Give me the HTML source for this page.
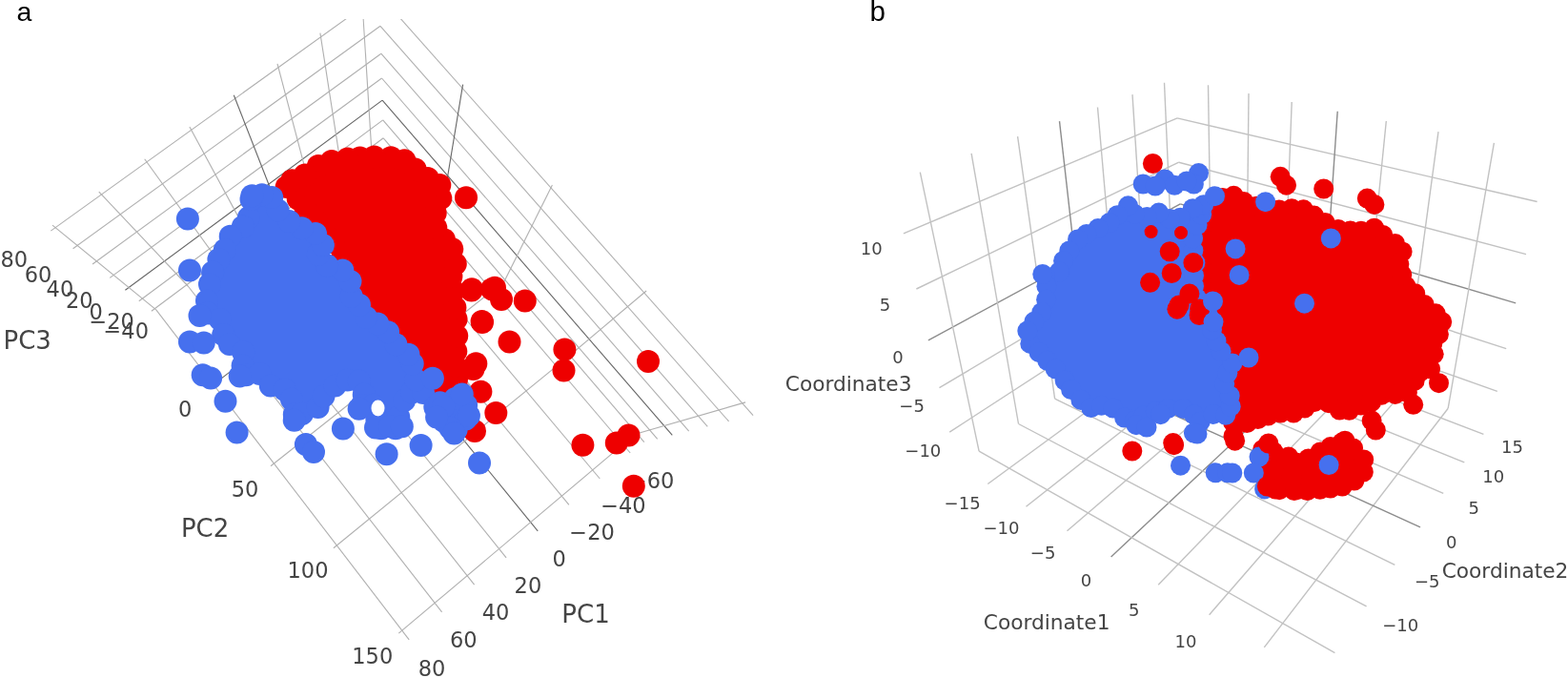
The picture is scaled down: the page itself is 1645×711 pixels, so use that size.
<!DOCTYPE html>
<html><head><meta charset="utf-8"><style>
html,body{margin:0;padding:0;background:#fff;overflow:hidden;}
svg{display:block;}
text.t{font-family:"DejaVu Sans","Liberation Sans",sans-serif;fill:#444;}
</style></head><body>
<svg width="1645" height="711" viewBox="0 0 1645 711">
<defs><clipPath id="clipA"><rect x="0" y="20" width="820" height="691"/></clipPath></defs>
<rect width="1645" height="711" fill="#fff"/>
<g clip-path="url(#clipA)">
<line x1="158.9" y1="326.2" x2="402.2" y2="144.8" stroke="#b0b0b0" stroke-width="1.1"/>
<line x1="145.8" y1="315.8" x2="401.7" y2="125.9" stroke="#b0b0b0" stroke-width="1.1"/>
<line x1="131.4" y1="304.3" x2="401.1" y2="105.1" stroke="#666666" stroke-width="1.1"/>
<line x1="115.2" y1="291.4" x2="400.5" y2="82.0" stroke="#b0b0b0" stroke-width="1.1"/>
<line x1="97.1" y1="277.0" x2="399.8" y2="56.2" stroke="#b0b0b0" stroke-width="1.1"/>
<line x1="76.6" y1="260.7" x2="399.0" y2="27.3" stroke="#b0b0b0" stroke-width="1.1"/>
<line x1="53.3" y1="242.1" x2="398.1" y2="-5.4" stroke="#b0b0b0" stroke-width="1.1"/>
<line x1="389.7" y1="156.4" x2="380.1" y2="3.0" stroke="#b0b0b0" stroke-width="1.1"/>
<line x1="358.5" y1="179.7" x2="335.9" y2="34.7" stroke="#b0b0b0" stroke-width="1.1"/>
<line x1="327.0" y1="203.2" x2="291.0" y2="66.9" stroke="#b0b0b0" stroke-width="1.1"/>
<line x1="295.1" y1="227.0" x2="245.3" y2="99.7" stroke="#666666" stroke-width="1.1"/>
<line x1="262.8" y1="251.1" x2="198.9" y2="132.9" stroke="#b0b0b0" stroke-width="1.1"/>
<line x1="230.2" y1="275.4" x2="151.7" y2="166.8" stroke="#b0b0b0" stroke-width="1.1"/>
<line x1="197.2" y1="300.0" x2="103.8" y2="201.1" stroke="#b0b0b0" stroke-width="1.1"/>
<line x1="163.8" y1="324.9" x2="55.0" y2="236.1" stroke="#b0b0b0" stroke-width="1.1"/>
<line x1="402.2" y1="144.8" x2="675.8" y2="463.7" stroke="#b0b0b0" stroke-width="1.1"/>
<line x1="401.7" y1="125.9" x2="689.7" y2="460.3" stroke="#b0b0b0" stroke-width="1.1"/>
<line x1="401.1" y1="105.1" x2="705.3" y2="456.4" stroke="#666666" stroke-width="1.1"/>
<line x1="400.5" y1="82.0" x2="722.7" y2="452.2" stroke="#b0b0b0" stroke-width="1.1"/>
<line x1="399.8" y1="56.2" x2="742.3" y2="447.3" stroke="#b0b0b0" stroke-width="1.1"/>
<line x1="399.0" y1="27.3" x2="764.6" y2="441.9" stroke="#b0b0b0" stroke-width="1.1"/>
<line x1="398.1" y1="-5.4" x2="790.1" y2="435.6" stroke="#b0b0b0" stroke-width="1.1"/>
<line x1="464.0" y1="219.0" x2="485.6" y2="88.7" stroke="#666666" stroke-width="1.1"/>
<line x1="529.1" y1="294.9" x2="579.4" y2="194.1" stroke="#b0b0b0" stroke-width="1.1"/>
<line x1="596.6" y1="373.6" x2="678.1" y2="305.0" stroke="#b0b0b0" stroke-width="1.1"/>
<line x1="666.5" y1="455.2" x2="782.1" y2="421.9" stroke="#b0b0b0" stroke-width="1.1"/>
<line x1="389.7" y1="156.4" x2="661.2" y2="475.0" stroke="#b0b0b0" stroke-width="1.1"/>
<line x1="358.5" y1="179.7" x2="629.3" y2="502.0" stroke="#b0b0b0" stroke-width="1.1"/>
<line x1="327.0" y1="203.2" x2="596.9" y2="529.3" stroke="#b0b0b0" stroke-width="1.1"/>
<line x1="295.1" y1="227.0" x2="564.2" y2="556.9" stroke="#666666" stroke-width="1.1"/>
<line x1="262.8" y1="251.1" x2="531.1" y2="584.9" stroke="#b0b0b0" stroke-width="1.1"/>
<line x1="230.2" y1="275.4" x2="497.6" y2="613.2" stroke="#b0b0b0" stroke-width="1.1"/>
<line x1="197.2" y1="300.0" x2="463.6" y2="641.9" stroke="#b0b0b0" stroke-width="1.1"/>
<line x1="163.8" y1="324.9" x2="429.2" y2="670.9" stroke="#b0b0b0" stroke-width="1.1"/>
<line x1="464.0" y1="219.0" x2="220.5" y2="405.9" stroke="#666666" stroke-width="1.1"/>
<line x1="529.1" y1="294.9" x2="284.0" y2="488.7" stroke="#b0b0b0" stroke-width="1.1"/>
<line x1="596.6" y1="373.6" x2="349.9" y2="574.7" stroke="#b0b0b0" stroke-width="1.1"/>
<line x1="666.5" y1="455.2" x2="418.3" y2="664.1" stroke="#b0b0b0" stroke-width="1.1"/>
</g>
<line x1="996.2" y1="453.1" x2="1241.2" y2="294.2" stroke="#c2c2c2" stroke-width="1.4"/>
<line x1="985.5" y1="406.7" x2="1239.8" y2="255.1" stroke="#c2c2c2" stroke-width="1.4"/>
<line x1="973.9" y1="356.8" x2="1238.3" y2="213.8" stroke="#8c8c8c" stroke-width="1.4"/>
<line x1="961.4" y1="303.0" x2="1236.7" y2="170.2" stroke="#c2c2c2" stroke-width="1.4"/>
<line x1="947.9" y1="244.9" x2="1235.1" y2="123.9" stroke="#c2c2c2" stroke-width="1.4"/>
<line x1="1027.1" y1="473.1" x2="965.3" y2="180.6" stroke="#c2c2c2" stroke-width="1.4"/>
<line x1="1068.5" y1="444.5" x2="1019.1" y2="160.9" stroke="#c2c2c2" stroke-width="1.4"/>
<line x1="1106.6" y1="418.2" x2="1067.6" y2="143.2" stroke="#c2c2c2" stroke-width="1.4"/>
<line x1="1141.7" y1="394.0" x2="1111.5" y2="127.1" stroke="#8c8c8c" stroke-width="1.4"/>
<line x1="1174.1" y1="371.7" x2="1151.5" y2="112.5" stroke="#c2c2c2" stroke-width="1.4"/>
<line x1="1204.2" y1="350.9" x2="1188.0" y2="99.1" stroke="#c2c2c2" stroke-width="1.4"/>
<line x1="1232.2" y1="331.6" x2="1221.5" y2="86.8" stroke="#c2c2c2" stroke-width="1.4"/>
<line x1="1241.2" y1="294.2" x2="1570.8" y2="410.3" stroke="#c2c2c2" stroke-width="1.4"/>
<line x1="1239.8" y1="255.1" x2="1580.2" y2="365.7" stroke="#c2c2c2" stroke-width="1.4"/>
<line x1="1238.3" y1="213.8" x2="1590.2" y2="317.9" stroke="#8c8c8c" stroke-width="1.4"/>
<line x1="1236.7" y1="170.2" x2="1601.0" y2="266.6" stroke="#c2c2c2" stroke-width="1.4"/>
<line x1="1235.1" y1="123.9" x2="1612.6" y2="211.5" stroke="#c2c2c2" stroke-width="1.4"/>
<line x1="1271.3" y1="335.5" x2="1267.5" y2="89.3" stroke="#c2c2c2" stroke-width="1.4"/>
<line x1="1307.4" y1="349.0" x2="1310.0" y2="97.9" stroke="#c2c2c2" stroke-width="1.4"/>
<line x1="1345.4" y1="363.2" x2="1355.2" y2="107.0" stroke="#c2c2c2" stroke-width="1.4"/>
<line x1="1385.4" y1="378.1" x2="1403.2" y2="116.7" stroke="#8c8c8c" stroke-width="1.4"/>
<line x1="1427.5" y1="393.9" x2="1454.3" y2="127.0" stroke="#c2c2c2" stroke-width="1.4"/>
<line x1="1472.1" y1="410.6" x2="1509.0" y2="138.1" stroke="#c2c2c2" stroke-width="1.4"/>
<line x1="1519.2" y1="428.2" x2="1567.4" y2="149.9" stroke="#c2c2c2" stroke-width="1.4"/>
<line x1="1036.3" y1="507.5" x2="1271.3" y2="335.5" stroke="#c2c2c2" stroke-width="1.4"/>
<line x1="1076.5" y1="531.3" x2="1307.4" y2="349.0" stroke="#c2c2c2" stroke-width="1.4"/>
<line x1="1119.5" y1="556.7" x2="1345.4" y2="363.2" stroke="#c2c2c2" stroke-width="1.4"/>
<line x1="1165.6" y1="583.9" x2="1385.4" y2="378.1" stroke="#8c8c8c" stroke-width="1.4"/>
<line x1="1215.2" y1="613.2" x2="1427.5" y2="393.9" stroke="#c2c2c2" stroke-width="1.4"/>
<line x1="1268.6" y1="644.8" x2="1472.1" y2="410.6" stroke="#c2c2c2" stroke-width="1.4"/>
<line x1="1326.3" y1="678.9" x2="1519.2" y2="428.2" stroke="#c2c2c2" stroke-width="1.4"/>
<line x1="1027.1" y1="473.1" x2="1400.4" y2="684.7" stroke="#c2c2c2" stroke-width="1.4"/>
<line x1="1068.5" y1="444.5" x2="1433.6" y2="635.9" stroke="#c2c2c2" stroke-width="1.4"/>
<line x1="1106.6" y1="418.2" x2="1463.3" y2="592.3" stroke="#c2c2c2" stroke-width="1.4"/>
<line x1="1141.7" y1="394.0" x2="1490.0" y2="552.9" stroke="#8c8c8c" stroke-width="1.4"/>
<line x1="1174.1" y1="371.7" x2="1514.2" y2="517.3" stroke="#c2c2c2" stroke-width="1.4"/>
<line x1="1204.2" y1="350.9" x2="1536.3" y2="484.9" stroke="#c2c2c2" stroke-width="1.4"/>
<line x1="1232.2" y1="331.6" x2="1556.4" y2="455.4" stroke="#c2c2c2" stroke-width="1.4"/>
<text class="t" x="0.5" y="279.5" font-size="22.5">80</text>
<text class="t" x="25.8" y="295.5" font-size="22.5">60</text>
<text class="t" x="48.6" y="310.7" font-size="22.5">40</text>
<text class="t" x="68.9" y="323.4" font-size="22.5">20</text>
<text class="t" x="93.4" y="335.2" font-size="22.5">0</text>
<text class="t" x="93.4" y="345.3" font-size="22.5">−20</text>
<text class="t" x="108.5" y="354.6" font-size="22.5">−40</text>
<text class="t" x="187.0" y="436.6" font-size="22.5">0</text>
<text class="t" x="242.7" y="520.6" font-size="22.5">50</text>
<text class="t" x="301.5" y="606.1" font-size="22.5">100</text>
<text class="t" x="369.3" y="696.0" font-size="22.5">150</text>
<text class="t" x="438.7" y="708.8" font-size="22.5">80</text>
<text class="t" x="472.0" y="678.5" font-size="22.5">60</text>
<text class="t" x="505.8" y="650.4" font-size="22.5">40</text>
<text class="t" x="539.6" y="622.2" font-size="22.5">20</text>
<text class="t" x="579.5" y="593.5" font-size="22.5">0</text>
<text class="t" x="597.3" y="566.0" font-size="22.5">−20</text>
<text class="t" x="630.2" y="538.4" font-size="22.5">−40</text>
<text class="t" x="659.9" y="512.0" font-size="22.5">−60</text>
<text class="t" x="3.5" y="365.5" font-size="26">PC3</text>
<text class="t" x="189.9" y="563.2" font-size="26">PC2</text>
<text class="t" x="589.3" y="653.2" font-size="26">PC1</text>
<polygon points="298.3,193.6 307.4,202.1 308.4,203.3 348.4,253.3 348.6,253.5 408.6,333.5 409.2,334.3 409.7,335.2 428.9,373.6 447.6,392.4 448.4,393.3 460.0,407.7 477.2,423.9 486.9,432.0 479.5,402.6 479.3,401.1 477.3,381.1 477.2,380.0 477.3,378.9 479.2,359.5 479.2,340.5 475.3,301.9 473.5,294.6 473.3,293.5 473.2,292.4 473.2,291.2 473.4,290.1 473.6,289.0 474.0,288.0 477.3,279.7 477.8,276.1 475.6,264.2 473.2,258.6 468.3,253.6 461.0,246.4 460.3,245.6 459.7,244.8 459.1,243.9 458.7,243.0 458.3,242.0 455.5,233.3 455.3,232.3 455.1,231.3 455.0,230.3 455.0,229.3 455.1,228.3 455.4,227.3 455.7,226.3 457.9,220.3 458.4,219.1 459.0,218.1 459.7,217.1 462.8,213.3 461.9,204.0 461.9,202.5 462.1,197.1 461.2,193.7 460.3,192.2 455.6,189.7 445.2,185.8 444.3,185.4 443.5,185.0 442.7,184.5 441.9,183.9 441.2,183.2 433.5,175.1 427.9,170.0 421.4,166.9 410.8,165.2 398.8,164.5 385.5,164.8 372.9,165.8 362.4,166.7 351.7,168.5 351.6,168.5 344.6,169.5 338.0,171.9 331.9,175.1 323.6,181.5 322.9,182.1 322.1,182.5 321.3,182.9 314.3,185.9 314.2,186.0 303.0,190.6 298.3,193.6" fill="#EE0000"/>
<circle cx="300.7" cy="195.9" r="12" fill="#EE0000"/>
<circle cx="312.7" cy="208.6" r="12" fill="#EE0000"/>
<circle cx="320.6" cy="218.5" r="12" fill="#EE0000"/>
<circle cx="331.5" cy="232.1" r="12" fill="#EE0000"/>
<circle cx="340.6" cy="243.5" r="12" fill="#EE0000"/>
<circle cx="349.3" cy="254.3" r="12" fill="#EE0000"/>
<circle cx="359.7" cy="268.2" r="12" fill="#EE0000"/>
<circle cx="367.6" cy="278.7" r="12" fill="#EE0000"/>
<circle cx="377.8" cy="292.4" r="12" fill="#EE0000"/>
<circle cx="386.0" cy="303.4" r="12" fill="#EE0000"/>
<circle cx="395.3" cy="315.7" r="12" fill="#EE0000"/>
<circle cx="405.4" cy="329.1" r="12" fill="#EE0000"/>
<circle cx="414.0" cy="343.9" r="12" fill="#EE0000"/>
<circle cx="419.4" cy="354.7" r="12" fill="#EE0000"/>
<circle cx="426.5" cy="368.8" r="12" fill="#EE0000"/>
<circle cx="437.2" cy="381.9" r="12" fill="#EE0000"/>
<circle cx="448.9" cy="393.9" r="12" fill="#EE0000"/>
<circle cx="457.4" cy="404.5" r="12" fill="#EE0000"/>
<circle cx="467.5" cy="414.8" r="12" fill="#EE0000"/>
<circle cx="480.8" cy="426.9" r="12" fill="#EE0000"/>
<circle cx="486.1" cy="429.0" r="12" fill="#EE0000"/>
<circle cx="481.5" cy="410.5" r="12" fill="#EE0000"/>
<circle cx="479.0" cy="398.1" r="12" fill="#EE0000"/>
<circle cx="477.5" cy="383.5" r="12" fill="#EE0000"/>
<circle cx="478.3" cy="368.4" r="12" fill="#EE0000"/>
<circle cx="479.2" cy="352.3" r="12" fill="#EE0000"/>
<circle cx="478.6" cy="334.7" r="12" fill="#EE0000"/>
<circle cx="477.4" cy="322.4" r="12" fill="#EE0000"/>
<circle cx="475.7" cy="305.3" r="12" fill="#EE0000"/>
<circle cx="473.4" cy="290.0" r="12" fill="#EE0000"/>
<circle cx="477.8" cy="276.7" r="12" fill="#EE0000"/>
<circle cx="474.3" cy="261.1" r="12" fill="#EE0000"/>
<circle cx="465.9" cy="251.2" r="12" fill="#EE0000"/>
<circle cx="457.3" cy="238.9" r="12" fill="#EE0000"/>
<circle cx="456.7" cy="223.6" r="12" fill="#EE0000"/>
<circle cx="462.3" cy="208.0" r="12" fill="#EE0000"/>
<circle cx="461.3" cy="193.9" r="12" fill="#EE0000"/>
<circle cx="448.7" cy="187.1" r="12" fill="#EE0000"/>
<circle cx="435.6" cy="177.4" r="12" fill="#EE0000"/>
<circle cx="424.3" cy="168.3" r="12" fill="#EE0000"/>
<circle cx="410.1" cy="165.2" r="12" fill="#EE0000"/>
<circle cx="392.6" cy="164.6" r="12" fill="#EE0000"/>
<circle cx="377.7" cy="165.4" r="12" fill="#EE0000"/>
<circle cx="364.6" cy="166.5" r="12" fill="#EE0000"/>
<circle cx="347.9" cy="169.0" r="12" fill="#EE0000"/>
<circle cx="333.9" cy="174.1" r="12" fill="#EE0000"/>
<circle cx="319.9" cy="183.5" r="12" fill="#EE0000"/>
<circle cx="306.4" cy="189.2" r="12" fill="#EE0000"/>
<circle cx="489.0" cy="207.2" r="12" fill="#EE0000"/>
<circle cx="494.6" cy="304.6" r="12" fill="#EE0000"/>
<circle cx="519.0" cy="301.8" r="12" fill="#EE0000"/>
<circle cx="526.0" cy="314.0" r="12" fill="#EE0000"/>
<circle cx="550.8" cy="315.5" r="12" fill="#EE0000"/>
<circle cx="506.0" cy="338.0" r="12" fill="#EE0000"/>
<circle cx="534.5" cy="358.5" r="12" fill="#EE0000"/>
<circle cx="592.4" cy="366.5" r="12" fill="#EE0000"/>
<circle cx="591.5" cy="388.6" r="12" fill="#EE0000"/>
<circle cx="680.0" cy="379.0" r="12" fill="#EE0000"/>
<circle cx="496.5" cy="387.0" r="12" fill="#EE0000"/>
<circle cx="504.4" cy="410.8" r="12" fill="#EE0000"/>
<circle cx="520.3" cy="433.0" r="12" fill="#EE0000"/>
<circle cx="498.0" cy="452.0" r="12" fill="#EE0000"/>
<circle cx="611.4" cy="466.8" r="12" fill="#EE0000"/>
<circle cx="646.8" cy="464.6" r="12" fill="#EE0000"/>
<circle cx="659.5" cy="456.6" r="12" fill="#EE0000"/>
<circle cx="499.3" cy="381.3" r="12" fill="#EE0000"/>
<circle cx="505.6" cy="337.0" r="12" fill="#EE0000"/>
<circle cx="495.0" cy="303.3" r="12" fill="#EE0000"/>
<circle cx="516.0" cy="303.3" r="12" fill="#EE0000"/>
<polygon points="262.8,222.0 262.8,223.0 262.6,224.0 262.4,225.0 262.0,226.0 261.6,226.9 261.1,227.8 254.1,238.8 253.6,239.6 252.9,240.3 252.2,241.0 251.5,241.6 250.7,242.2 239.3,249.2 235.8,253.7 235.8,262.0 235.8,263.0 235.6,264.1 235.4,265.1 235.0,266.0 234.6,267.0 234.1,267.9 233.4,268.7 232.8,269.5 232.0,270.2 231.2,270.9 230.3,271.4 229.4,271.9 224.7,273.9 223.7,277.1 222.8,290.7 222.7,291.8 222.4,292.8 222.1,293.8 221.7,294.8 219.1,300.0 219.7,305.8 219.8,306.8 219.8,307.8 219.7,308.7 219.5,309.7 219.2,310.6 218.8,311.5 214.0,321.9 214.4,325.1 217.7,328.4 225.1,330.7 226.1,331.0 227.0,331.4 227.9,332.0 228.7,332.6 229.5,333.2 230.2,334.0 230.8,334.8 231.4,335.7 231.9,336.6 232.2,337.6 232.5,338.6 232.7,339.6 234.5,352.8 237.9,359.7 250.3,365.1 251.3,365.6 252.2,366.1 253.0,366.8 253.8,367.5 254.5,368.3 255.1,369.1 255.6,370.1 256.0,371.0 256.4,372.0 256.6,373.0 256.8,374.1 256.8,375.1 256.7,376.2 256.6,377.2 256.3,378.3 252.2,391.3 254.7,394.0 265.5,391.5 266.5,391.3 267.5,391.2 268.6,391.2 269.6,391.3 270.6,391.5 271.6,391.8 272.5,392.2 273.4,392.7 274.3,393.2 275.1,393.8 275.8,394.6 276.5,395.3 285.0,406.1 297.0,408.4 298.0,408.6 299.1,409.0 300.0,409.4 301.0,410.0 301.8,410.6 302.6,411.4 303.4,412.2 304.0,413.0 304.6,414.0 305.0,414.9 305.4,416.0 305.6,417.0 308.6,433.0 308.8,434.0 308.8,435.0 308.8,438.0 314.2,435.3 314.5,435.2 327.5,429.2 328.4,428.8 338.7,425.2 339.2,417.3 339.3,416.2 339.6,415.2 339.9,414.2 340.3,413.2 340.8,412.3 341.4,411.4 342.1,410.6 342.9,409.9 343.7,409.2 344.6,408.7 356.6,401.7 357.4,401.2 358.2,400.9 366.2,397.9 367.2,397.6 368.3,397.3 369.3,397.2 370.4,397.2 371.5,397.3 372.5,397.5 373.6,397.8 374.6,398.2 375.5,398.7 376.4,399.3 377.2,400.0 378.0,400.7 378.7,401.6 379.3,402.5 379.8,403.4 380.2,404.4 380.5,405.4 380.7,406.5 381.7,413.5 381.8,414.5 381.8,415.5 381.7,416.5 381.5,417.6 381.2,418.5 380.8,419.5 380.3,420.4 379.8,421.3 376.8,425.5 376.8,425.6 377.5,426.0 381.6,424.1 382.6,423.8 383.6,423.5 384.6,423.3 385.6,423.2 386.7,423.2 387.7,423.3 388.7,423.6 389.7,423.9 390.7,424.3 391.6,424.8 392.5,425.3 393.3,426.0 394.0,426.7 394.7,427.5 395.2,428.4 395.7,429.3 396.1,430.3 396.4,431.3 396.7,432.3 396.8,433.3 396.8,434.4 396.7,435.4 396.5,436.4 396.2,437.4 393.5,445.8 397.2,449.2 416.5,449.2 420.1,445.6 418.5,438.4 418.3,437.3 418.2,436.2 418.2,435.0 418.4,433.9 418.7,432.8 419.1,431.7 425.1,417.7 425.5,416.8 426.1,415.9 426.7,415.1 427.4,414.3 428.2,413.6 429.0,413.0 429.9,412.5 430.8,412.0 431.8,411.7 432.8,411.4 433.8,411.3 434.9,411.2 435.9,411.2 437.0,411.4 438.0,411.6 445.0,413.6 445.4,413.8 439.7,406.9 439.0,406.0 438.4,405.0 437.9,403.9 437.6,402.8 433.6,387.8 433.4,387.0 433.3,386.2 431.9,373.7 424.4,369.4 423.6,368.9 422.9,368.4 422.2,367.8 411.5,357.5 410.8,356.7 410.2,355.9 409.6,355.0 409.1,354.1 408.7,353.1 404.5,340.2 400.8,339.4 394.0,339.4 393.0,339.3 391.9,339.2 390.9,338.9 389.9,338.6 389.0,338.2 388.1,337.6 387.2,337.0 386.4,336.3 385.7,335.5 385.1,334.7 384.5,333.8 384.1,332.9 383.7,331.9 383.4,330.9 381.9,323.9 372.1,315.8 371.3,315.1 370.6,314.3 370.0,313.5 369.5,312.6 369.0,311.6 368.7,310.6 368.4,309.6 368.3,308.6 368.2,307.5 368.2,296.9 364.7,287.2 361.1,283.6 355.0,283.6 354.0,283.6 353.1,283.4 352.1,283.2 351.2,282.9 350.3,282.5 349.4,282.0 339.0,275.7 338.1,275.1 337.3,274.4 336.5,273.7 335.8,272.8 335.3,271.9 334.8,271.0 334.4,270.0 334.1,268.9 333.9,267.9 333.8,266.8 333.8,265.7 334.0,264.6 334.2,263.6 334.5,262.6 335.0,261.6 335.5,260.6 336.2,259.8 336.9,258.9 339.9,255.9 339.7,255.6 334.3,248.2 330.3,244.4 319.9,240.8 318.6,240.2 306.1,233.9 305.2,233.4 304.3,232.8 303.5,232.1 294.9,223.8 294.7,223.6 288.3,217.1 287.6,216.3 287.0,215.4 286.5,214.5 286.0,213.6 285.7,212.6 285.4,211.6 285.3,210.5 285.2,209.5 285.2,203.6 278.0,204.3 277.0,204.3 266.8,204.3 264.8,205.5 262.8,210.9 262.8,222.0" fill="#4670EE"/>
<circle cx="260.9" cy="228.2" r="12" fill="#4670EE"/>
<circle cx="254.8" cy="237.7" r="12" fill="#4670EE"/>
<circle cx="241.7" cy="247.7" r="12" fill="#4670EE"/>
<circle cx="235.8" cy="262.0" r="12" fill="#4670EE"/>
<circle cx="229.4" cy="271.9" r="12" fill="#4670EE"/>
<circle cx="223.1" cy="285.5" r="12" fill="#4670EE"/>
<circle cx="220.0" cy="298.1" r="12" fill="#4670EE"/>
<circle cx="217.0" cy="315.4" r="12" fill="#4670EE"/>
<circle cx="218.3" cy="328.6" r="12" fill="#4670EE"/>
<circle cx="230.9" cy="334.9" r="12" fill="#4670EE"/>
<circle cx="234.2" cy="351.0" r="12" fill="#4670EE"/>
<circle cx="240.9" cy="361.0" r="12" fill="#4670EE"/>
<circle cx="255.2" cy="369.4" r="12" fill="#4670EE"/>
<circle cx="254.6" cy="383.6" r="12" fill="#4670EE"/>
<circle cx="258.0" cy="393.2" r="12" fill="#4670EE"/>
<circle cx="272.4" cy="392.1" r="12" fill="#4670EE"/>
<circle cx="283.8" cy="404.6" r="12" fill="#4670EE"/>
<circle cx="298.5" cy="408.8" r="12" fill="#4670EE"/>
<circle cx="305.9" cy="418.7" r="12" fill="#4670EE"/>
<circle cx="308.8" cy="434.5" r="12" fill="#4670EE"/>
<circle cx="316.9" cy="434.1" r="12" fill="#4670EE"/>
<circle cx="333.6" cy="427.0" r="12" fill="#4670EE"/>
<circle cx="339.5" cy="415.6" r="12" fill="#4670EE"/>
<circle cx="351.5" cy="404.6" r="12" fill="#4670EE"/>
<circle cx="364.5" cy="398.5" r="12" fill="#4670EE"/>
<circle cx="376.6" cy="399.5" r="12" fill="#4670EE"/>
<circle cx="381.7" cy="413.8" r="12" fill="#4670EE"/>
<circle cx="379.9" cy="424.9" r="12" fill="#4670EE"/>
<circle cx="391.6" cy="424.8" r="12" fill="#4670EE"/>
<circle cx="395.4" cy="440.0" r="12" fill="#4670EE"/>
<circle cx="400.0" cy="449.2" r="12" fill="#4670EE"/>
<circle cx="415.0" cy="449.2" r="12" fill="#4670EE"/>
<circle cx="418.3" cy="437.4" r="12" fill="#4670EE"/>
<circle cx="424.1" cy="420.1" r="12" fill="#4670EE"/>
<circle cx="432.2" cy="411.6" r="12" fill="#4670EE"/>
<circle cx="444.0" cy="412.0" r="12" fill="#4670EE"/>
<circle cx="436.4" cy="398.4" r="12" fill="#4670EE"/>
<circle cx="432.7" cy="381.4" r="12" fill="#4670EE"/>
<circle cx="428.5" cy="371.7" r="12" fill="#4670EE"/>
<circle cx="415.4" cy="361.2" r="12" fill="#4670EE"/>
<circle cx="407.1" cy="348.2" r="12" fill="#4670EE"/>
<circle cx="396.2" cy="339.4" r="12" fill="#4670EE"/>
<circle cx="384.0" cy="332.7" r="12" fill="#4670EE"/>
<circle cx="377.0" cy="319.8" r="12" fill="#4670EE"/>
<circle cx="368.7" cy="310.7" r="12" fill="#4670EE"/>
<circle cx="367.5" cy="295.0" r="12" fill="#4670EE"/>
<circle cx="359.4" cy="283.6" r="12" fill="#4670EE"/>
<circle cx="343.1" cy="278.2" r="12" fill="#4670EE"/>
<circle cx="333.8" cy="266.8" r="12" fill="#4670EE"/>
<circle cx="338.9" cy="256.9" r="12" fill="#4670EE"/>
<circle cx="331.0" cy="245.1" r="12" fill="#4670EE"/>
<circle cx="316.7" cy="239.3" r="12" fill="#4670EE"/>
<circle cx="303.4" cy="231.9" r="12" fill="#4670EE"/>
<circle cx="291.6" cy="220.5" r="12" fill="#4670EE"/>
<circle cx="285.2" cy="206.9" r="12" fill="#4670EE"/>
<circle cx="274.8" cy="204.3" r="12" fill="#4670EE"/>
<circle cx="263.5" cy="209.0" r="12" fill="#4670EE"/>
<polygon points="453.1,421.6 458.3,430.5 463.8,439.7 468.3,445.1 468.6,445.4 473.9,452.3 478.9,450.6 487.4,441.4 491.4,435.0 488.9,424.0 484.7,417.0 481.3,415.8 475.6,419.3 474.7,419.7 473.7,420.1 472.8,420.4 471.8,420.7 459.8,422.7 458.8,422.8 457.7,422.8 456.7,422.7 455.7,422.6 454.7,422.3 453.8,421.9 453.1,421.6" fill="#4670EE"/>
<circle cx="456.3" cy="427.0" r="12" fill="#4670EE"/>
<circle cx="465.6" cy="441.8" r="12" fill="#4670EE"/>
<circle cx="478.6" cy="450.8" r="12" fill="#4670EE"/>
<circle cx="488.6" cy="439.5" r="12" fill="#4670EE"/>
<circle cx="489.1" cy="424.9" r="12" fill="#4670EE"/>
<circle cx="477.6" cy="418.0" r="12" fill="#4670EE"/>
<circle cx="461.6" cy="422.3" r="12" fill="#4670EE"/>
<ellipse cx="396.5" cy="428" rx="7" ry="8.5" fill="#fff"/>
<circle cx="196.9" cy="229.6" r="12" fill="#4670EE"/>
<circle cx="199.0" cy="283.4" r="12" fill="#4670EE"/>
<circle cx="209.5" cy="331.0" r="12" fill="#4670EE"/>
<circle cx="199.0" cy="358.5" r="12" fill="#4670EE"/>
<circle cx="213.8" cy="359.6" r="12" fill="#4670EE"/>
<circle cx="212.7" cy="393.3" r="12" fill="#4670EE"/>
<circle cx="221.1" cy="396.5" r="12" fill="#4670EE"/>
<circle cx="236.5" cy="420.8" r="12" fill="#4670EE"/>
<circle cx="248.6" cy="453.5" r="12" fill="#4670EE"/>
<circle cx="320.9" cy="465.9" r="12" fill="#4670EE"/>
<circle cx="329.0" cy="474.0" r="12" fill="#4670EE"/>
<circle cx="359.9" cy="449.6" r="12" fill="#4670EE"/>
<circle cx="376.6" cy="428.7" r="12" fill="#4670EE"/>
<circle cx="394.0" cy="448.5" r="12" fill="#4670EE"/>
<circle cx="409.0" cy="447.3" r="12" fill="#4670EE"/>
<circle cx="421.8" cy="447.3" r="12" fill="#4670EE"/>
<circle cx="405.6" cy="476.3" r="12" fill="#4670EE"/>
<circle cx="441.6" cy="467.0" r="12" fill="#4670EE"/>
<circle cx="503.0" cy="485.6" r="12" fill="#4670EE"/>
<circle cx="251.7" cy="394.4" r="12" fill="#4670EE"/>
<circle cx="308.7" cy="440.8" r="12" fill="#4670EE"/>
<circle cx="264.4" cy="205.3" r="12" fill="#4670EE"/>
<circle cx="453.9" cy="396.7" r="12" fill="#4670EE"/>
<circle cx="465.2" cy="426.3" r="12" fill="#4670EE"/>
<circle cx="484.8" cy="413.6" r="12" fill="#4670EE"/>
<circle cx="491.9" cy="436.1" r="12" fill="#4670EE"/>
<circle cx="472.2" cy="448.8" r="12" fill="#4670EE"/>
<circle cx="476.4" cy="454.4" r="12" fill="#4670EE"/>
<circle cx="458.1" cy="437.5" r="12" fill="#4670EE"/>
<circle cx="664.8" cy="509.7" r="12" fill="#EE0000"/>
<text class="t" x="902.8" y="267.1" font-size="18">10</text>
<text class="t" x="922.8" y="326.1" font-size="18">5</text>
<text class="t" x="936.2" y="380.6" font-size="18">0</text>
<text class="t" x="943.3" y="431.6" font-size="18">−5</text>
<text class="t" x="949.3" y="479.1" font-size="18">−10</text>
<text class="t" x="990.6" y="534.2" font-size="18">−15</text>
<text class="t" x="1031.4" y="559.8" font-size="18">−10</text>
<text class="t" x="1080.8" y="586.0" font-size="18">−5</text>
<text class="t" x="1133.8" y="615.2" font-size="18">0</text>
<text class="t" x="1184.0" y="646.0" font-size="18">5</text>
<text class="t" x="1232.6" y="679.2" font-size="18">10</text>
<text class="t" x="1575.1" y="474.7" font-size="18">15</text>
<text class="t" x="1555.3" y="505.8" font-size="18">10</text>
<text class="t" x="1540.4" y="538.7" font-size="18">5</text>
<text class="t" x="1516.9" y="575.4" font-size="18">0</text>
<text class="t" x="1484.0" y="615.9" font-size="18">−5</text>
<text class="t" x="1450.2" y="661.7" font-size="18">−10</text>
<text class="t" x="823.8" y="410.1" font-size="21.7">Coordinate3</text>
<text class="t" x="1031.8" y="659.5" font-size="21.7">Coordinate1</text>
<text class="t" x="1512.7" y="605.5" font-size="21.7">Coordinate2</text>
<polygon points="1269.2,212.4 1261.3,232.1 1259.5,260.1 1261.4,298.3 1274.0,337.1 1274.2,337.7 1284.2,377.7 1284.3,378.4 1291.3,418.4 1291.4,419.1 1293.8,444.4 1300.8,446.2 1320.7,439.3 1320.8,439.3 1337.6,433.6 1338.6,433.3 1339.6,433.1 1340.6,433.1 1360.5,433.1 1380.7,420.5 1381.5,420.0 1382.4,419.6 1383.3,419.4 1384.2,419.2 1385.2,419.1 1386.1,419.1 1387.1,419.1 1388.0,419.3 1388.9,419.6 1389.8,420.0 1390.6,420.4 1391.4,420.9 1401.6,428.6 1410.9,432.3 1427.0,425.4 1427.8,425.1 1428.6,424.9 1436.1,423.2 1447.8,415.1 1448.6,414.6 1449.5,414.2 1450.4,413.9 1451.3,413.6 1452.3,413.5 1453.2,413.4 1463.8,413.4 1478.6,411.4 1486.8,393.5 1487.3,392.7 1487.8,391.9 1488.4,391.2 1489.0,390.5 1489.7,389.9 1490.5,389.4 1491.3,389.0 1492.2,388.6 1493.1,388.3 1494.0,388.2 1495.0,388.1 1495.9,388.1 1499.7,388.3 1505.3,378.7 1502.9,362.3 1502.9,361.4 1502.9,360.4 1503.0,359.4 1503.2,358.5 1503.5,357.6 1503.9,356.7 1504.4,355.9 1504.9,355.1 1505.6,354.3 1513.6,346.2 1512.5,336.1 1506.2,328.8 1494.2,319.3 1493.6,318.8 1493.1,318.2 1492.5,317.6 1485.8,308.5 1476.7,301.8 1476.0,301.2 1475.4,300.6 1474.9,299.9 1474.4,299.2 1474.0,298.4 1473.6,297.6 1473.3,296.8 1468.2,279.1 1468.0,278.3 1467.9,277.4 1467.9,276.5 1467.9,275.6 1468.0,274.8 1468.2,273.9 1471.6,262.0 1461.6,253.7 1446.8,243.9 1446.0,243.3 1445.3,242.7 1444.7,242.0 1444.1,241.2 1442.7,239.0 1426.2,242.6 1425.2,242.8 1424.1,242.8 1423.0,242.8 1402.7,240.3 1401.7,240.1 1400.7,239.8 1399.8,239.4 1398.9,238.9 1378.8,226.3 1363.9,217.8 1341.5,220.0 1340.7,220.0 1339.9,220.0 1339.0,219.9 1323.4,217.3 1323.2,217.3 1311.0,214.9 1310.1,214.6 1309.2,214.3 1308.3,213.9 1307.5,213.4 1295.2,205.2 1286.0,206.3 1269.2,212.4" fill="#EE0000"/>
<circle cx="1268.4" cy="214.5" r="10.5" fill="#EE0000"/>
<circle cx="1263.6" cy="226.3" r="10.5" fill="#EE0000"/>
<circle cx="1260.8" cy="239.4" r="10.5" fill="#EE0000"/>
<circle cx="1260.0" cy="252.3" r="10.5" fill="#EE0000"/>
<circle cx="1259.7" cy="263.9" r="10.5" fill="#EE0000"/>
<circle cx="1260.3" cy="277.0" r="10.5" fill="#EE0000"/>
<circle cx="1260.9" cy="289.0" r="10.5" fill="#EE0000"/>
<circle cx="1263.2" cy="304.0" r="10.5" fill="#EE0000"/>
<circle cx="1266.6" cy="314.4" r="10.5" fill="#EE0000"/>
<circle cx="1270.7" cy="327.0" r="10.5" fill="#EE0000"/>
<circle cx="1274.8" cy="340.1" r="10.5" fill="#EE0000"/>
<circle cx="1277.9" cy="352.7" r="10.5" fill="#EE0000"/>
<circle cx="1281.3" cy="366.2" r="10.5" fill="#EE0000"/>
<circle cx="1284.2" cy="377.8" r="10.5" fill="#EE0000"/>
<circle cx="1286.5" cy="390.6" r="10.5" fill="#EE0000"/>
<circle cx="1288.8" cy="404.2" r="10.5" fill="#EE0000"/>
<circle cx="1291.1" cy="417.0" r="10.5" fill="#EE0000"/>
<circle cx="1292.5" cy="431.1" r="10.5" fill="#EE0000"/>
<circle cx="1293.6" cy="442.9" r="10.5" fill="#EE0000"/>
<circle cx="1308.2" cy="443.6" r="10.5" fill="#EE0000"/>
<circle cx="1319.7" cy="439.6" r="10.5" fill="#EE0000"/>
<circle cx="1330.4" cy="436.0" r="10.5" fill="#EE0000"/>
<circle cx="1343.5" cy="433.1" r="10.5" fill="#EE0000"/>
<circle cx="1357.1" cy="433.1" r="10.5" fill="#EE0000"/>
<circle cx="1368.9" cy="427.9" r="10.5" fill="#EE0000"/>
<circle cx="1379.2" cy="421.4" r="10.5" fill="#EE0000"/>
<circle cx="1393.8" cy="422.7" r="10.5" fill="#EE0000"/>
<circle cx="1405.3" cy="430.1" r="10.5" fill="#EE0000"/>
<circle cx="1415.5" cy="430.3" r="10.5" fill="#EE0000"/>
<circle cx="1427.7" cy="425.1" r="10.5" fill="#EE0000"/>
<circle cx="1438.6" cy="421.5" r="10.5" fill="#EE0000"/>
<circle cx="1449.6" cy="414.2" r="10.5" fill="#EE0000"/>
<circle cx="1463.7" cy="413.4" r="10.5" fill="#EE0000"/>
<circle cx="1476.4" cy="411.7" r="10.5" fill="#EE0000"/>
<circle cx="1484.1" cy="399.4" r="10.5" fill="#EE0000"/>
<circle cx="1489.3" cy="390.3" r="10.5" fill="#EE0000"/>
<circle cx="1500.6" cy="386.8" r="10.5" fill="#EE0000"/>
<circle cx="1504.2" cy="371.3" r="10.5" fill="#EE0000"/>
<circle cx="1502.9" cy="359.9" r="10.5" fill="#EE0000"/>
<circle cx="1509.4" cy="350.5" r="10.5" fill="#EE0000"/>
<circle cx="1512.7" cy="337.5" r="10.5" fill="#EE0000"/>
<circle cx="1506.2" cy="328.8" r="10.5" fill="#EE0000"/>
<circle cx="1494.3" cy="319.4" r="10.5" fill="#EE0000"/>
<circle cx="1484.8" cy="307.8" r="10.5" fill="#EE0000"/>
<circle cx="1474.9" cy="299.9" r="10.5" fill="#EE0000"/>
<circle cx="1470.8" cy="288.1" r="10.5" fill="#EE0000"/>
<circle cx="1467.9" cy="277.1" r="10.5" fill="#EE0000"/>
<circle cx="1471.1" cy="263.9" r="10.5" fill="#EE0000"/>
<circle cx="1463.6" cy="255.4" r="10.5" fill="#EE0000"/>
<circle cx="1450.8" cy="246.5" r="10.5" fill="#EE0000"/>
<circle cx="1441.7" cy="239.2" r="10.5" fill="#EE0000"/>
<circle cx="1427.9" cy="242.3" r="10.5" fill="#EE0000"/>
<circle cx="1416.6" cy="242.0" r="10.5" fill="#EE0000"/>
<circle cx="1403.9" cy="240.4" r="10.5" fill="#EE0000"/>
<circle cx="1390.2" cy="233.5" r="10.5" fill="#EE0000"/>
<circle cx="1378.5" cy="226.1" r="10.5" fill="#EE0000"/>
<circle cx="1367.5" cy="219.8" r="10.5" fill="#EE0000"/>
<circle cx="1355.1" cy="218.7" r="10.5" fill="#EE0000"/>
<circle cx="1341.9" cy="220.0" r="10.5" fill="#EE0000"/>
<circle cx="1329.2" cy="218.3" r="10.5" fill="#EE0000"/>
<circle cx="1318.2" cy="216.3" r="10.5" fill="#EE0000"/>
<circle cx="1304.9" cy="211.6" r="10.5" fill="#EE0000"/>
<circle cx="1294.3" cy="205.3" r="10.5" fill="#EE0000"/>
<circle cx="1282.7" cy="207.5" r="10.5" fill="#EE0000"/>
<polygon points="1324.0,471.4 1321.8,476.3 1324.3,490.4 1324.3,490.6 1326.8,507.0 1333.8,512.9 1350.5,514.5 1374.4,514.5 1398.3,511.7 1416.1,507.2 1425.5,501.0 1430.5,494.7 1430.5,485.0 1420.7,471.1 1412.3,462.6 1401.5,465.8 1384.4,474.4 1366.6,484.3 1365.7,484.7 1364.8,485.0 1363.9,485.3 1363.0,485.4 1362.0,485.4 1361.0,485.4 1360.1,485.3 1359.2,485.0 1358.3,484.7 1344.3,478.7 1343.0,478.0 1332.3,471.4 1324.0,471.4" fill="#EE0000"/>
<circle cx="1324.6" cy="471.4" r="10.5" fill="#EE0000"/>
<circle cx="1323.1" cy="483.7" r="10.5" fill="#EE0000"/>
<circle cx="1325.6" cy="498.8" r="10.5" fill="#EE0000"/>
<circle cx="1331.6" cy="511.0" r="10.5" fill="#EE0000"/>
<circle cx="1342.3" cy="513.7" r="10.5" fill="#EE0000"/>
<circle cx="1357.8" cy="514.5" r="10.5" fill="#EE0000"/>
<circle cx="1371.5" cy="514.5" r="10.5" fill="#EE0000"/>
<circle cx="1384.8" cy="513.3" r="10.5" fill="#EE0000"/>
<circle cx="1395.8" cy="512.0" r="10.5" fill="#EE0000"/>
<circle cx="1408.4" cy="509.2" r="10.5" fill="#EE0000"/>
<circle cx="1420.8" cy="504.1" r="10.5" fill="#EE0000"/>
<circle cx="1430.3" cy="495.0" r="10.5" fill="#EE0000"/>
<circle cx="1428.6" cy="482.2" r="10.5" fill="#EE0000"/>
<circle cx="1419.6" cy="469.9" r="10.5" fill="#EE0000"/>
<circle cx="1408.1" cy="463.9" r="10.5" fill="#EE0000"/>
<circle cx="1395.8" cy="468.6" r="10.5" fill="#EE0000"/>
<circle cx="1385.1" cy="474.0" r="10.5" fill="#EE0000"/>
<circle cx="1372.6" cy="480.9" r="10.5" fill="#EE0000"/>
<circle cx="1359.6" cy="485.1" r="10.5" fill="#EE0000"/>
<circle cx="1349.8" cy="481.1" r="10.5" fill="#EE0000"/>
<circle cx="1335.9" cy="473.6" r="10.5" fill="#EE0000"/>
<polygon points="1077.1,348.8 1076.0,353.4 1079.5,359.1 1111.7,391.3 1112.3,392.0 1112.8,392.7 1127.1,413.6 1143.6,427.8 1158.1,424.8 1159.0,424.6 1159.9,424.6 1160.9,424.6 1161.8,424.7 1162.7,425.0 1163.6,425.3 1164.5,425.7 1165.3,426.2 1166.0,426.7 1184.0,441.7 1184.3,441.9 1188.1,442.3 1200.6,435.7 1201.2,435.4 1201.9,435.1 1218.9,429.1 1219.9,428.8 1220.9,428.6 1222.0,428.6 1241.0,428.6 1241.9,428.6 1242.7,428.7 1243.6,428.9 1244.4,429.2 1245.2,429.5 1246.0,430.0 1246.7,430.4 1254.7,436.4 1255.3,437.0 1256.0,437.6 1256.5,438.3 1257.0,439.0 1257.5,439.8 1258.8,442.6 1261.6,440.0 1262.4,439.4 1263.2,438.9 1264.1,438.4 1275.1,433.4 1276.0,433.0 1276.9,432.8 1277.8,432.6 1278.8,432.6 1279.7,432.6 1280.7,432.7 1281.6,432.9 1282.5,433.2 1283.4,433.6 1284.2,434.1 1285.0,434.7 1286.6,436.0 1290.9,428.9 1292.2,417.6 1286.4,409.6 1285.8,408.8 1285.4,407.9 1285.0,407.0 1284.8,406.1 1284.6,405.2 1284.6,404.2 1284.6,403.3 1284.7,402.3 1284.9,401.4 1288.9,387.4 1289.2,386.6 1289.5,385.8 1290.0,385.0 1290.4,384.3 1291.0,383.7 1291.6,383.0 1292.3,382.5 1293.7,381.4 1293.2,381.1 1292.4,380.6 1291.7,380.0 1291.0,379.4 1281.0,368.4 1280.3,367.5 1279.7,366.6 1279.3,365.6 1274.3,353.6 1274.1,353.1 1268.1,336.1 1267.8,335.3 1267.7,334.4 1267.6,333.5 1267.6,332.6 1267.6,331.8 1267.8,330.9 1268.8,326.6 1263.4,325.1 1262.6,324.8 1261.7,324.4 1260.9,324.0 1260.2,323.5 1259.5,322.9 1258.9,322.2 1258.3,321.5 1257.8,320.8 1257.4,320.0 1257.1,319.2 1256.8,318.3 1252.8,302.3 1252.6,301.2 1252.5,300.0 1252.5,285.0 1252.6,284.3 1252.7,283.6 1254.4,272.4 1250.8,258.3 1250.7,257.5 1250.6,256.6 1250.6,255.8 1250.6,255.0 1250.7,254.1 1252.7,244.1 1253.0,243.2 1253.3,242.3 1259.3,228.3 1265.1,214.2 1260.6,215.1 1250.0,219.2 1242.3,226.1 1241.5,226.7 1240.7,227.2 1239.8,227.7 1238.9,228.0 1237.9,228.3 1236.9,228.4 1226.9,229.4 1226.0,229.4 1225.1,229.4 1224.2,229.3 1223.3,229.0 1222.4,228.7 1221.5,228.3 1220.8,227.9 1220.0,227.3 1219.3,226.7 1215.1,222.5 1213.0,224.3 1212.3,224.8 1211.6,225.3 1210.8,225.7 1209.9,226.0 1209.0,226.2 1200.0,228.2 1199.2,228.4 1198.3,228.4 1197.3,228.4 1196.4,228.3 1195.6,228.1 1194.7,227.9 1193.9,227.5 1193.1,227.1 1192.3,226.5 1191.6,226.0 1191.0,225.3 1190.4,224.6 1189.9,223.9 1185.5,216.6 1183.2,215.7 1178.3,219.2 1166.9,231.4 1166.3,232.0 1165.7,232.6 1165.0,233.0 1164.2,233.5 1142.2,244.5 1141.2,244.9 1132.9,247.9 1125.6,257.6 1116.6,270.2 1113.0,281.8 1112.7,282.7 1112.3,283.5 1111.8,284.3 1111.2,285.1 1110.6,285.8 1109.8,286.4 1109.1,287.0 1108.2,287.5 1107.4,287.8 1106.4,288.1 1105.5,288.3 1104.6,288.4 1103.6,288.4 1102.7,288.4 1099.2,287.9 1096.6,289.6 1095.8,294.9 1098.8,302.5 1099.1,303.3 1099.3,304.1 1099.4,305.0 1099.4,305.9 1099.4,306.7 1099.3,307.6 1099.1,308.4 1095.1,323.4 1094.8,324.4 1094.4,325.3 1093.9,326.2 1093.3,327.0 1084.3,338.0 1083.6,338.7 1082.9,339.4 1079.8,341.8 1077.1,348.8" fill="#4670EE"/>
<circle cx="1080.8" cy="360.4" r="10.5" fill="#4670EE"/>
<circle cx="1090.1" cy="369.7" r="10.5" fill="#4670EE"/>
<circle cx="1098.7" cy="378.3" r="10.5" fill="#4670EE"/>
<circle cx="1107.2" cy="386.9" r="10.5" fill="#4670EE"/>
<circle cx="1117.1" cy="399.0" r="10.5" fill="#4670EE"/>
<circle cx="1123.6" cy="408.5" r="10.5" fill="#4670EE"/>
<circle cx="1133.9" cy="419.4" r="10.5" fill="#4670EE"/>
<circle cx="1144.7" cy="427.6" r="10.5" fill="#4670EE"/>
<circle cx="1155.5" cy="425.3" r="10.5" fill="#4670EE"/>
<circle cx="1167.7" cy="428.1" r="10.5" fill="#4670EE"/>
<circle cx="1179.6" cy="438.0" r="10.5" fill="#4670EE"/>
<circle cx="1190.2" cy="441.2" r="10.5" fill="#4670EE"/>
<circle cx="1200.0" cy="436.0" r="10.5" fill="#4670EE"/>
<circle cx="1212.3" cy="431.4" r="10.5" fill="#4670EE"/>
<circle cx="1225.2" cy="428.6" r="10.5" fill="#4670EE"/>
<circle cx="1241.5" cy="428.6" r="10.5" fill="#4670EE"/>
<circle cx="1252.5" cy="434.8" r="10.5" fill="#4670EE"/>
<circle cx="1259.2" cy="442.3" r="10.5" fill="#4670EE"/>
<circle cx="1272.9" cy="434.4" r="10.5" fill="#4670EE"/>
<circle cx="1285.8" cy="435.3" r="10.5" fill="#4670EE"/>
<circle cx="1291.2" cy="426.2" r="10.5" fill="#4670EE"/>
<circle cx="1290.2" cy="414.9" r="10.5" fill="#4670EE"/>
<circle cx="1284.7" cy="402.4" r="10.5" fill="#4670EE"/>
<circle cx="1287.8" cy="391.3" r="10.5" fill="#4670EE"/>
<circle cx="1292.9" cy="380.9" r="10.5" fill="#4670EE"/>
<circle cx="1281.1" cy="368.5" r="10.5" fill="#4670EE"/>
<circle cx="1276.0" cy="357.7" r="10.5" fill="#4670EE"/>
<circle cx="1271.5" cy="345.8" r="10.5" fill="#4670EE"/>
<circle cx="1267.7" cy="331.5" r="10.5" fill="#4670EE"/>
<circle cx="1262.7" cy="324.9" r="10.5" fill="#4670EE"/>
<circle cx="1255.4" cy="312.6" r="10.5" fill="#4670EE"/>
<circle cx="1252.5" cy="299.9" r="10.5" fill="#4670EE"/>
<circle cx="1252.5" cy="289.0" r="10.5" fill="#4670EE"/>
<circle cx="1253.9" cy="275.7" r="10.5" fill="#4670EE"/>
<circle cx="1251.9" cy="262.6" r="10.5" fill="#4670EE"/>
<circle cx="1251.6" cy="249.8" r="10.5" fill="#4670EE"/>
<circle cx="1256.1" cy="235.9" r="10.5" fill="#4670EE"/>
<circle cx="1260.7" cy="224.8" r="10.5" fill="#4670EE"/>
<circle cx="1262.7" cy="214.7" r="10.5" fill="#4670EE"/>
<circle cx="1251.3" cy="218.7" r="10.5" fill="#4670EE"/>
<circle cx="1238.2" cy="228.2" r="10.5" fill="#4670EE"/>
<circle cx="1227.2" cy="229.4" r="10.5" fill="#4670EE"/>
<circle cx="1215.7" cy="223.1" r="10.5" fill="#4670EE"/>
<circle cx="1203.4" cy="227.5" r="10.5" fill="#4670EE"/>
<circle cx="1190.3" cy="224.5" r="10.5" fill="#4670EE"/>
<circle cx="1183.5" cy="215.8" r="10.5" fill="#4670EE"/>
<circle cx="1172.2" cy="225.7" r="10.5" fill="#4670EE"/>
<circle cx="1163.9" cy="233.6" r="10.5" fill="#4670EE"/>
<circle cx="1151.9" cy="239.6" r="10.5" fill="#4670EE"/>
<circle cx="1139.9" cy="245.4" r="10.5" fill="#4670EE"/>
<circle cx="1130.6" cy="250.9" r="10.5" fill="#4670EE"/>
<circle cx="1121.8" cy="263.0" r="10.5" fill="#4670EE"/>
<circle cx="1115.6" cy="273.4" r="10.5" fill="#4670EE"/>
<circle cx="1111.2" cy="285.1" r="10.5" fill="#4670EE"/>
<circle cx="1096.6" cy="289.9" r="10.5" fill="#4670EE"/>
<circle cx="1097.9" cy="300.2" r="10.5" fill="#4670EE"/>
<circle cx="1097.6" cy="314.2" r="10.5" fill="#4670EE"/>
<circle cx="1092.8" cy="327.6" r="10.5" fill="#4670EE"/>
<circle cx="1084.8" cy="337.3" r="10.5" fill="#4670EE"/>
<circle cx="1077.8" cy="347.0" r="10.5" fill="#4670EE"/>
<circle cx="1207.6" cy="243.1" r="7" fill="#EE0000"/>
<circle cx="1239.0" cy="244.1" r="7" fill="#EE0000"/>
<circle cx="1199.2" cy="193.0" r="10.5" fill="#4670EE"/>
<circle cx="1222.0" cy="188.0" r="10.5" fill="#4670EE"/>
<circle cx="1232.2" cy="194.3" r="10.5" fill="#4670EE"/>
<circle cx="1257.5" cy="181.6" r="10.5" fill="#4670EE"/>
<circle cx="1252.4" cy="193.0" r="10.5" fill="#4670EE"/>
<circle cx="1245.0" cy="190.0" r="10.5" fill="#4670EE"/>
<circle cx="1212.0" cy="195.0" r="10.5" fill="#4670EE"/>
<circle cx="1238.5" cy="488.2" r="10.5" fill="#4670EE"/>
<circle cx="1275.2" cy="495.8" r="10.5" fill="#4670EE"/>
<circle cx="1287.8" cy="495.8" r="10.5" fill="#4670EE"/>
<circle cx="1321.0" cy="479.1" r="10.5" fill="#4670EE"/>
<circle cx="1315.3" cy="496.0" r="10.5" fill="#4670EE"/>
<circle cx="1326.6" cy="512.9" r="10.5" fill="#4670EE"/>
<circle cx="1292.8" cy="496.0" r="10.5" fill="#4670EE"/>
<circle cx="1252.4" cy="454.0" r="10.5" fill="#4670EE"/>
<circle cx="1093.8" cy="287.5" r="10.5" fill="#4670EE"/>
<circle cx="1209.4" cy="171.5" r="10.5" fill="#EE0000"/>
<circle cx="1343.2" cy="185.3" r="10.5" fill="#EE0000"/>
<circle cx="1349.5" cy="194.2" r="10.5" fill="#EE0000"/>
<circle cx="1388.7" cy="198.0" r="10.5" fill="#EE0000"/>
<circle cx="1434.3" cy="208.1" r="10.5" fill="#EE0000"/>
<circle cx="1441.9" cy="214.4" r="10.5" fill="#EE0000"/>
<circle cx="1509.5" cy="401.7" r="10.5" fill="#EE0000"/>
<circle cx="1482.7" cy="424.3" r="10.5" fill="#EE0000"/>
<circle cx="1443.3" cy="451.0" r="10.5" fill="#EE0000"/>
<circle cx="1439.1" cy="441.1" r="10.5" fill="#EE0000"/>
<circle cx="1411.0" cy="462.2" r="10.5" fill="#EE0000"/>
<circle cx="1430.7" cy="481.9" r="10.5" fill="#EE0000"/>
<circle cx="1422.2" cy="498.8" r="10.5" fill="#EE0000"/>
<circle cx="1408.2" cy="510.0" r="10.5" fill="#EE0000"/>
<circle cx="1391.3" cy="510.0" r="10.5" fill="#EE0000"/>
<circle cx="1385.7" cy="476.3" r="10.5" fill="#EE0000"/>
<circle cx="1368.8" cy="498.8" r="10.5" fill="#EE0000"/>
<circle cx="1360.3" cy="487.6" r="10.5" fill="#EE0000"/>
<circle cx="1351.9" cy="479.1" r="10.5" fill="#EE0000"/>
<circle cx="1346.3" cy="504.5" r="10.5" fill="#EE0000"/>
<circle cx="1337.8" cy="512.9" r="10.5" fill="#EE0000"/>
<circle cx="1329.4" cy="510.0" r="10.5" fill="#EE0000"/>
<circle cx="1363.2" cy="512.9" r="10.5" fill="#EE0000"/>
<circle cx="1295.6" cy="462.2" r="10.5" fill="#EE0000"/>
<circle cx="1330.8" cy="465.0" r="10.5" fill="#EE0000"/>
<circle cx="1405.0" cy="490.0" r="10.5" fill="#EE0000"/>
<circle cx="1375.0" cy="505.0" r="10.5" fill="#EE0000"/>
<circle cx="1355.0" cy="500.0" r="10.5" fill="#EE0000"/>
<circle cx="1187.8" cy="473.0" r="10.5" fill="#EE0000"/>
<circle cx="1231.6" cy="466.7" r="10.5" fill="#EE0000"/>
<circle cx="1227.2" cy="263.8" r="10.5" fill="#EE0000"/>
<circle cx="1251.9" cy="275.6" r="10.5" fill="#EE0000"/>
<circle cx="1229.2" cy="286.5" r="10.5" fill="#EE0000"/>
<circle cx="1206.6" cy="296.3" r="10.5" fill="#EE0000"/>
<circle cx="1247.9" cy="308.1" r="10.5" fill="#EE0000"/>
<circle cx="1237.1" cy="320.0" r="10.5" fill="#EE0000"/>
<circle cx="1258.7" cy="323.9" r="10.5" fill="#EE0000"/>
<circle cx="1234.9" cy="324.2" r="10.5" fill="#EE0000"/>
<circle cx="1258.1" cy="330.6" r="10.5" fill="#EE0000"/>
<circle cx="1230.7" cy="464.6" r="10.5" fill="#EE0000"/>
<circle cx="1294.0" cy="457.2" r="10.5" fill="#EE0000"/>
<circle cx="1273.0" cy="337.6" r="10.5" fill="#4670EE"/>
<circle cx="1310.0" cy="375.0" r="10.5" fill="#4670EE"/>
<circle cx="1192.0" cy="445.7" r="10.5" fill="#4670EE"/>
<circle cx="1217.6" cy="434.7" r="10.5" fill="#4670EE"/>
<circle cx="1203.0" cy="448.0" r="10.5" fill="#4670EE"/>
<circle cx="1296.1" cy="260.9" r="10.5" fill="#4670EE"/>
<circle cx="1300.1" cy="288.4" r="10.5" fill="#4670EE"/>
<circle cx="1327.6" cy="211.7" r="10.5" fill="#4670EE"/>
<circle cx="1274.5" cy="205.7" r="10.5" fill="#4670EE"/>
<circle cx="1272.5" cy="316.0" r="10.5" fill="#4670EE"/>
<circle cx="1396.3" cy="249.9" r="10.5" fill="#4670EE"/>
<circle cx="1368.5" cy="318.2" r="10.5" fill="#4670EE"/>
<circle cx="1394.1" cy="487.6" r="10.5" fill="#4670EE"/>
<circle cx="1256.0" cy="455.1" r="10.5" fill="#4670EE"/>
<text x="17.6" y="21.7" font-size="28.5" style="font-family:'Liberation Sans',Arial,sans-serif;fill:#000">a</text>
<text x="912.6" y="21.8" font-size="29.5" style="font-family:'Liberation Sans',Arial,sans-serif;fill:#000">b</text>
</svg>
</body></html>
